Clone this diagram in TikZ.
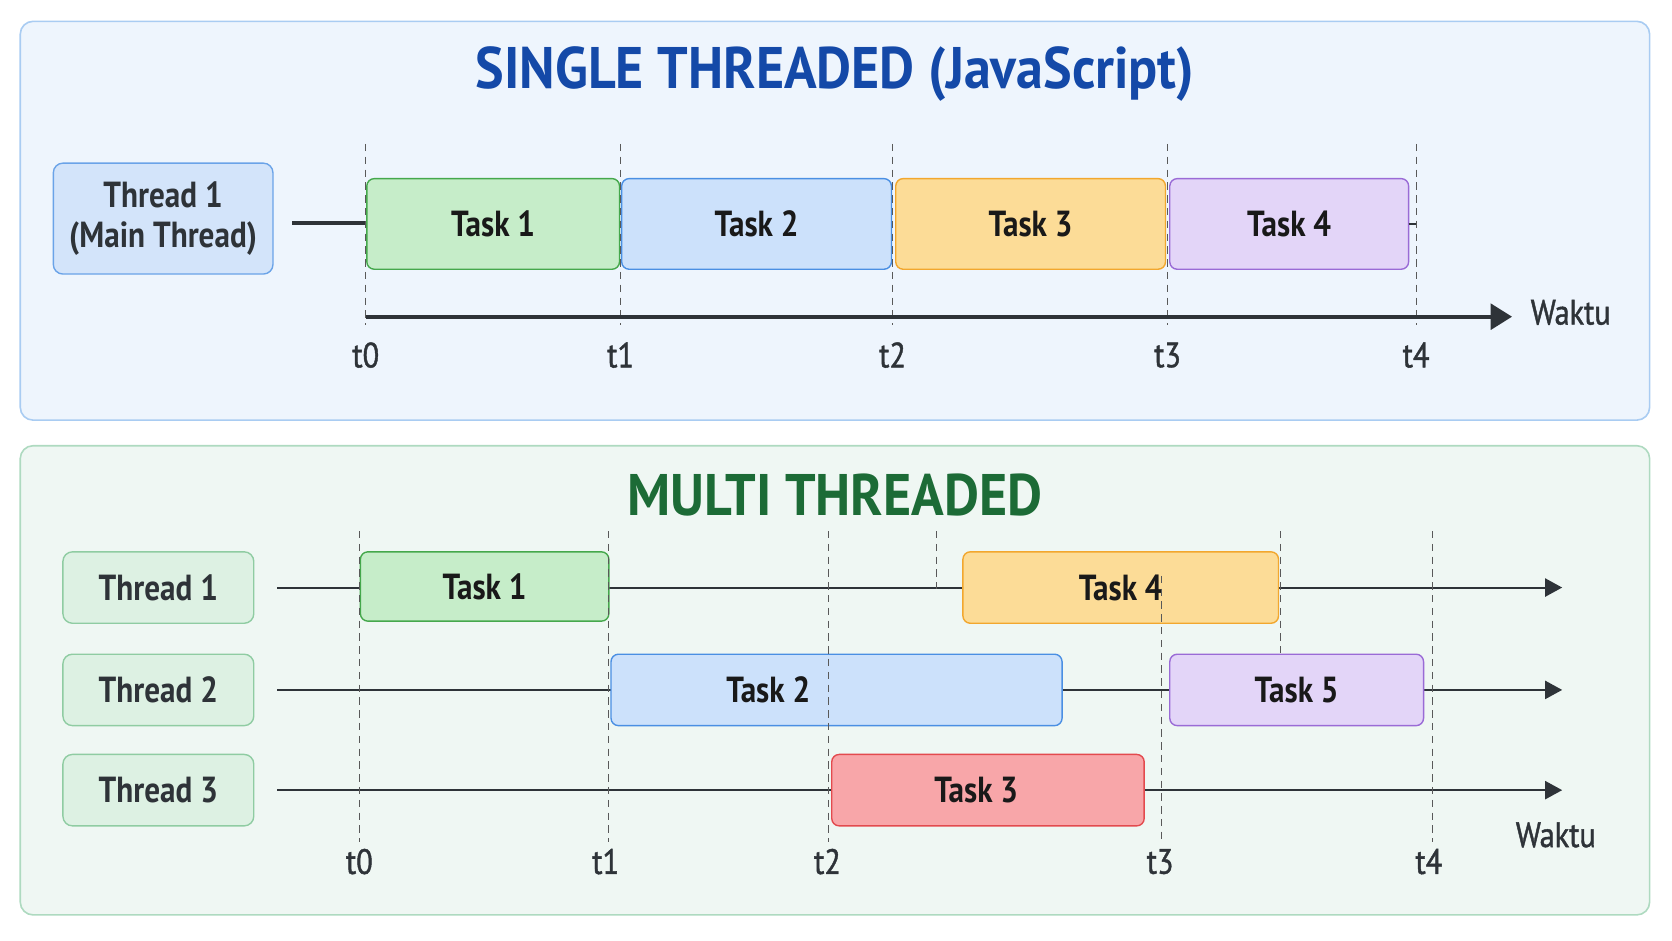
\documentclass[tikz,border=0pt]{standalone}
\usepackage{fontspec}
\setmainfont{PT Sans}
\newfontfamily\condfont[FakeStretch=0.86]{PT Sans}
\newfontfamily\headfont[FakeStretch=0.92]{PT Sans}
\newfontfamily\tickfont[FakeStretch=0.86,FakeBold=1.2]{PT Sans}
\usetikzlibrary{positioning,arrows.meta}

\definecolor{topbg}{HTML}{EEF5FD}
\definecolor{topline}{HTML}{A9CCF2}
\definecolor{botbg}{HTML}{EFF7F3}
\definecolor{botline}{HTML}{AEDAC0}
\definecolor{titleblue}{HTML}{1449A8}
\definecolor{titlegreen}{HTML}{1C6B36}
\definecolor{mainfill}{HTML}{D3E4FA}
\definecolor{mainline}{HTML}{6AA3E8}
\definecolor{thfill}{HTML}{DDF1E3}
\definecolor{thline}{HTML}{8FCCA2}
\definecolor{greenfill}{HTML}{C6EDC9}
\definecolor{greenline}{HTML}{45A84C}
\definecolor{bluefill}{HTML}{CCE1FB}
\definecolor{blueline}{HTML}{4A8FE3}
\definecolor{orangefill}{HTML}{FCDC97}
\definecolor{orangeline}{HTML}{F2A72E}
\definecolor{purplefill}{HTML}{E3D5F8}
\definecolor{purpleline}{HTML}{9A6BD6}
\definecolor{redfill}{HTML}{F8A6A9}
\definecolor{redline}{HTML}{E34A4E}
\definecolor{ink}{HTML}{2E3338}

\begin{document}
\begin{tikzpicture}[x=1pt,y=-1pt,
				panel/.style={rounded corners=12pt,line width=1.5pt},
				title/.style={font=\headfont\bfseries\fontsize{55}{60}\selectfont},
				taskfont/.style={font=\condfont\bfseries\fontsize{34}{37}\selectfont,text=black!90},
				task/.style={taskfont,draw,rounded corners=7pt,line width=1.3pt,outer sep=0pt,inner sep=0pt,anchor=west},
				thread/.style={taskfont,draw,rounded corners=9pt,line width=1.3pt,outer sep=0pt,align=center,text=ink},
				tlabel/.style={font=\tickfont\fontsize{33}{36}\selectfont,text=ink},
				grid/.style={draw=black!65,line width=0.9pt,dash pattern=on 7pt off 5pt},
				axis/.style={draw=ink,line width=3.5pt},
				track/.style={draw=ink,line width=1.8pt,-{Triangle[length=16pt,width=17pt]}}]
				\useasboundingbox (0,0) rectangle (1568,882);
				% panels
				\draw[panel,draw=topline,fill=topbg] (19,20) rectangle (1547,394);
				\draw[panel,draw=botline,fill=botbg] (19,418) rectangle (1547,858);
				\node[title,text=titleblue]  (TOPTITLE) at (783,69)  {SINGLE THREADED (JavaScript)};
				\node[title,text=titlegreen] (BOTTITLE) at (783,464) {MULTI THREADED};

				% single threaded
				\node[thread,fill=mainfill,draw=mainline,minimum width=206pt,minimum height=104pt] (MAIN) at (153,205) {Thread 1\\(Main Thread)};
				\coordinate (S0) at (274,209);
				\draw[axis] (S0) -- (344,209);
				\node[task,fill=greenfill,draw=greenline,minimum width=237pt,minimum height=85pt]  (A1) at (344,210)    {Task 1};
				\node[task,fill=bluefill,draw=blueline,minimum width=253pt,minimum height=85pt]    (A2) [right=2pt of A1] {Task 2};
				\node[task,fill=orangefill,draw=orangeline,minimum width=253pt,minimum height=85pt] (A3) [right=4pt of A2] {Task 3};
				\node[task,fill=purplefill,draw=purpleline,minimum width=224pt,minimum height=85pt] (A4) [right=4pt of A3] {Task 4};
				\foreach \x/\t in {343/0,582/1,837/2,1095/3,1328/4}{
					\draw[grid] (\x,135) -- (\x,305);
					\node[tlabel] (ta\t) at (\x,333) {t\t};
				}
				\draw[draw=ink,line width=1.5pt] (A4.east) -- (A4.east -| ta4);
				\coordinate (AX0) at (343,297);
				\coordinate (AX1) at (1418,297);
				\draw[axis,-{Triangle[length=20pt,width=24pt]}] (AX0) -- (AX1);
				\node[tlabel,anchor=west] (WAKTU1) at (1432,293) {Waktu};

				% multi threaded
				\foreach \n/\y in {1/551,2/647,3/741}{
					\node[thread,fill=thfill,draw=thline,minimum width=179pt,minimum height=67pt] (TH\n) at (148.5,\y) {Thread \n};
					\coordinate (L\n) at ([xshift=22pt]TH\n.east);
					\coordinate (R\n) at (1465,\y);
					\draw[track] (L\n) -- (R\n);
				}
				\node[task,fill=greenfill,draw=greenline,minimum width=233pt,minimum height=65pt]   (B1) at (338,550)  {Task 1};
				\node[task,fill=orangefill,draw=orangeline,minimum width=296pt,minimum height=67pt] (B4) at (903,551)  {Task 4};
				\node[task,fill=bluefill,draw=blueline,minimum width=423pt,minimum height=67pt,
					label={[taskfont,xshift=-64pt]center:Task 2}]                                      (B2) at (573,647)  {};
				\node[task,fill=purplefill,draw=purpleline,minimum width=238pt,minimum height=67pt] (B5) at (1097,647) {Task 5};
				\node[task,fill=redfill,draw=redline,minimum width=293pt,minimum height=67pt,
					label={[taskfont,xshift=-11pt]center:Task 3}]                                      (B3) at (780,741)  {};
				\foreach \x/\s/\t/\l in {337/498/0/337,571/498/1/568,777/498/2/776,1089/540/3/1088,1343/498/4/1340}{
					\draw[grid] (\x,\s) -- (\x,790);
					\node[tlabel] (tb\t) at (\l,808) {t\t};
				}
				\draw[grid] (878,498) -- (878,552);
				\draw[grid] (1201,498) -- (1201,612);
				\node[tlabel] (WAKTU2) at (1459,783) {Waktu};
			\end{tikzpicture}
\end{document}
